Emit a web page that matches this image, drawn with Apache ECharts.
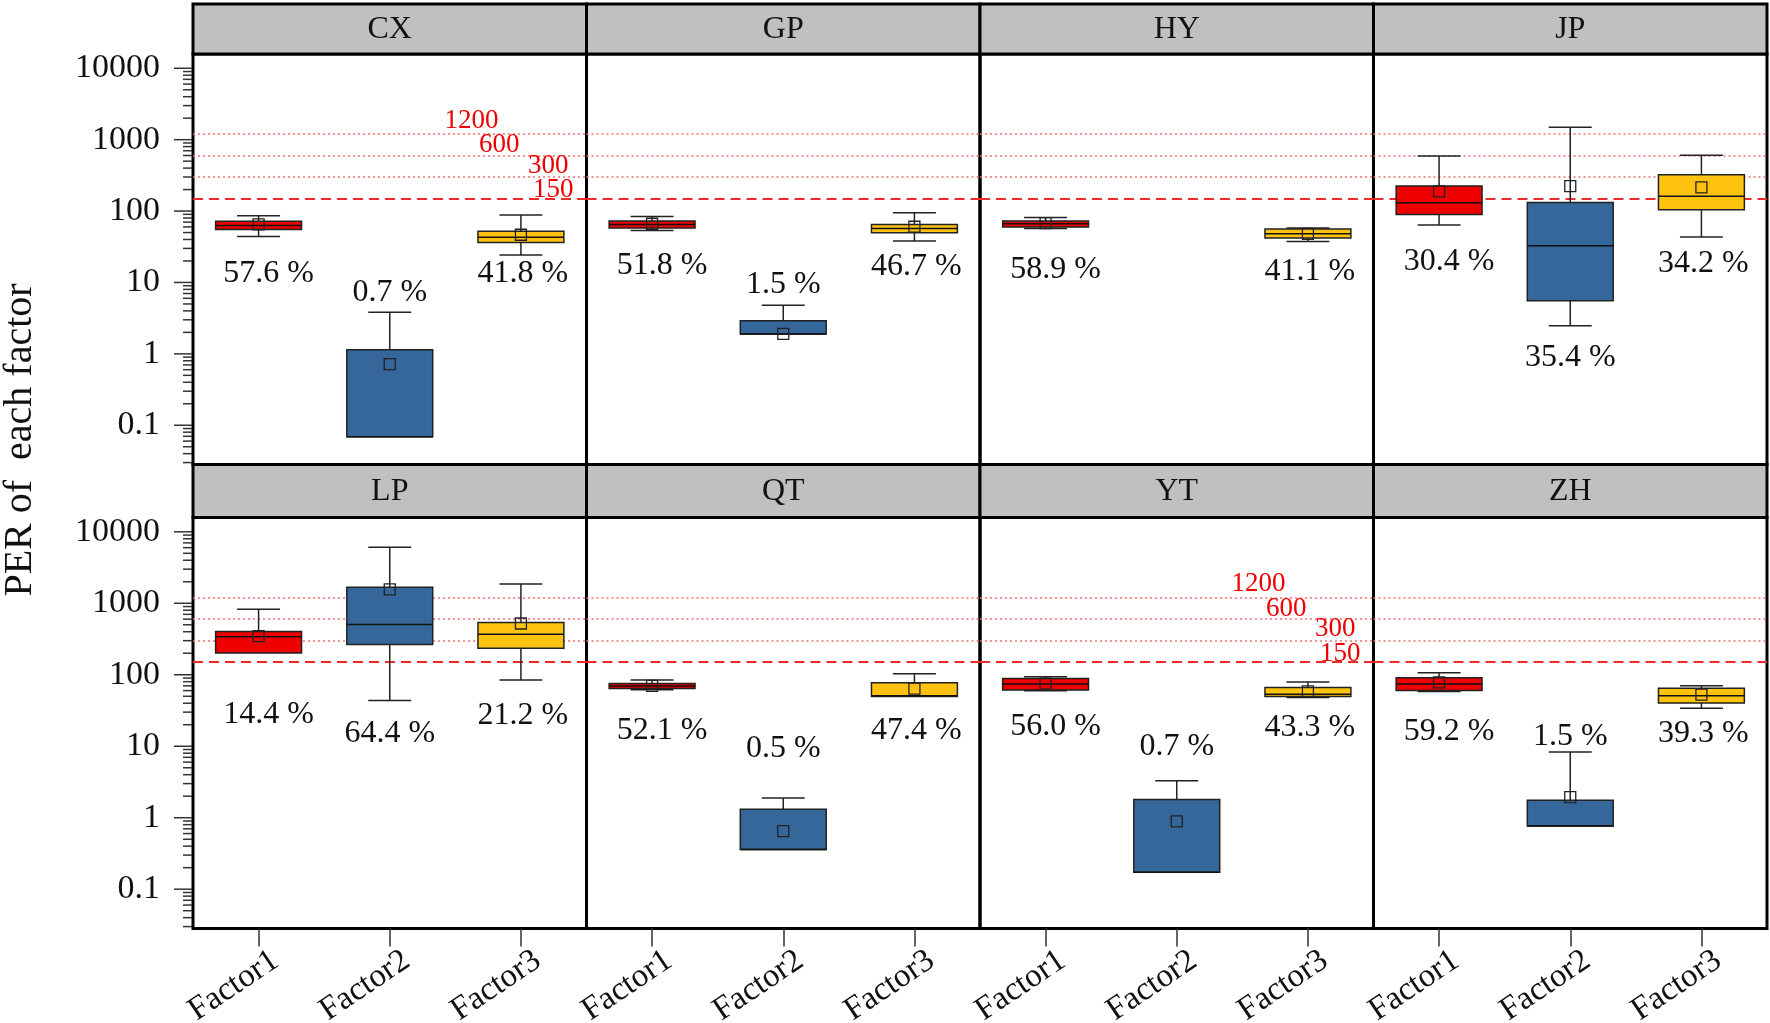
<!DOCTYPE html>
<html>
<head>
<meta charset="utf-8">
<script src="https://cdn.jsdelivr.net/npm/echarts@6/dist/echarts.min.js"></script>
<style>
html,body{margin:0;padding:0;background:#fff;}
#chart{width:1770px;height:1023px;}
</style>
</head>
<body>
<div id="chart"></div>
<script>
// ---------------- DATA ----------------
const panels = ['CX', 'GP', 'HY', 'JP', 'LP', 'QT', 'YT', 'ZH'];
const factors = ['Factor1', 'Factor2', 'Factor3'];
const yTickLabels = [0.1, 1, 10, 100, 1000, 10000];
const thresholds = [1200, 600, 300, 150];
const thresholdLabelPanels = ['CX', 'YT'];

// box statistics per panel: [min, Q1, median, Q3, max]
const factor1Box = [
  [44, 55, 63, 72, 86],
  [53.6, 57.8, 65, 72.4, 84.2],
  [57.1, 59.7, 66.4, 72.4, 81.5],
  [63.7, 89.8, 131, 224, 590],
  [201, 201, 339, 404, 828],
  [61.8, 64, 69.6, 75.3, 84.6],
  [59.7, 61, 74.5, 88.5, 93.8],
  [58.3, 60.4, 74.5, 90.6, 107]
];
const factor2Box = [
  [0.069, 0.069, 0.069, 1.14, 3.84],
  [1.89, 1.89, 1.9, 2.9, 4.81],
  null,
  [2.47, 5.53, 32.7, 132, 1489],
  [43.7, 266, 504, 1680, 6080],
  [0.36, 0.36, 0.36, 1.31, 1.89],
  [0.172, 0.172, 0.172, 1.8, 3.3],
  [0.766, 0.766, 0.766, 1.76, 8.33]
];
const factor3Box = [
  [24.2, 36.3, 43, 52, 88],
  [38, 49.7, 57.1, 65, 94.8],
  [37.6, 41.8, 48.1, 56, 57.8],
  [43.2, 104, 161, 323, 603],
  [84.5, 234, 368, 540, 1865],
  [49.6, 49.6, 51, 77, 103],
  [47.9, 49.6, 53.2, 66.3, 78.9],
  [33.9, 40.3, 50.8, 64.7, 70.3]
];
// means (open squares)
const factor1Mean = [65, 66.4, 67.9, 189, 347, 70, 75, 78];
const factor2Mean = [0.72, 1.9, null, 224, 1567, 0.65, 0.89, 1.94];
const factor3Mean = [46.6, 60.3, 48, 215, 521, 64, 58.4, 52.6];
// contribution percentages
const factor1Pct = [57.6, 51.8, 58.9, 30.4, 14.4, 52.1, 56.0, 59.2];
const factor2Pct = [0.7, 1.5, null, 35.4, 64.4, 0.5, 0.7, 1.5];
const factor3Pct = [41.8, 46.7, 41.1, 34.2, 21.2, 47.4, 43.3, 39.3];
// value on the log axis where each percentage annotation sits
const factor1LabelAt = [13.5, 17.3, 15, 19.3, 28, 16.7, 18.7, 15.8];
const factor2LabelAt = [7.3, 9.4, null, 0.9, 15.2, 9.35, 9.9, 13.6];
const factor3LabelAt = [13.2, 16.9, 14.4, 18.3, 27.2, 16.3, 18.3, 15.2];

// ---------------- STYLE / LAYOUT ----------------
const FONT = '"Liberation Serif","Times New Roman",serif';
const COLORS = ['#EE0000', '#35679A', '#FFC30F'];
const LEFT = 193, COLW = 393.5;
const HEADER_TOP = [4, 464.5];
const PLOT_TOP = [54, 517.5];
const PLOT_H = [410.5, 411];
const Y_MIN = 0.0282, Y_MAX = 15850;
const LABEL_DX = [10, 0, 2];
const TH_LABEL_DIST = [[88, 0], [67, -3], [18, -2], [13, -5]];

const boxes = [factor1Box, factor2Box, factor3Box];
const means = [factor1Mean, factor2Mean, factor3Mean];
const pcts = [factor1Pct, factor2Pct, factor3Pct];
const labelAts = [factor1LabelAt, factor2LabelAt, factor3LabelAt];

function fmtTick(v) {
  const l = Math.log10(v);
  const rl = Math.round(l);
  if (Math.abs(l - rl) > 1e-6) return '';
  const t = yTickLabels.find(tv => Math.abs(Math.log10(tv) - rl) < 1e-6);
  return t == null ? '' : String(t);
}

// tick values for the log axis (major + minor 2..9)
const tickValues = [];
for (let k = -2; k <= 4; k++) {
  for (let m = 1; m <= 9; m++) {
    const v = m * Math.pow(10, k);
    if (v >= Y_MIN && v <= Y_MAX) tickValues.push([0, v, m === 1 ? 1 : 0]);
  }
}

function boxRender(params, api) {
  const cat = api.value(0);
  const vals = [1, 2, 3, 4, 5].map(d => api.value(d));
  const mean = api.value(6);
  const band = params.coordSys.width / factors.length;
  const bw = band * 0.655, cw = bw * 0.5;
  const x = api.coord([cat, vals[2]])[0];
  const y = vals.map(v => api.coord([cat, v])[1]);
  const ls = { stroke: '#222', lineWidth: 1.5 };
  const color = COLORS[cat];
  const children = [];
  if (vals[4] > vals[3]) {
    children.push({ type: 'line', shape: { x1: x, y1: y[4], x2: x, y2: y[3] }, style: ls });
    children.push({ type: 'line', shape: { x1: x - cw / 2, y1: y[4], x2: x + cw / 2, y2: y[4] }, style: ls });
  }
  if (vals[0] < vals[1]) {
    children.push({ type: 'line', shape: { x1: x, y1: y[1], x2: x, y2: y[0] }, style: ls });
    children.push({ type: 'line', shape: { x1: x - cw / 2, y1: y[0], x2: x + cw / 2, y2: y[0] }, style: ls });
  }
  children.push({ type: 'rect', shape: { x: x - bw / 2, y: y[3], width: bw, height: y[1] - y[3] },
    style: { fill: color, stroke: '#222', lineWidth: 1.5 } });
  children.push({ type: 'line', shape: { x1: x - bw / 2, y1: y[2], x2: x + bw / 2, y2: y[2] },
    style: { stroke: '#111', lineWidth: 1.5 } });
  if (!isNaN(mean)) {
    const ym = api.coord([cat, mean])[1];
    children.push({ type: 'rect', shape: { x: x - 5.5, y: ym - 5.5, width: 11, height: 11 },
      style: { fill: 'none', stroke: '#222', lineWidth: 1.3 } });
  }
  return { type: 'group', children };
}

const grids = [], xAxes = [], yAxes = [], series = [], graphics = [];

panels.forEach((name, i) => {
  const r = Math.floor(i / 4), c = i % 4;
  const left = LEFT + c * COLW;
  grids.push({
    left: left, top: PLOT_TOP[r], width: COLW, height: PLOT_H[r],
    show: true, borderColor: '#000', borderWidth: 3, backgroundColor: 'transparent',
    containLabel: false, outerBoundsMode: 'none'
  });
  xAxes.push({
    type: 'category', gridIndex: i, data: factors, boundaryGap: true,
    axisLine: { show: false },
    axisTick: { show: r === 1, alignWithLabel: true, length: 18, lineStyle: { color: '#333', width: 1.5 } },
    axisLabel: { show: false }, splitLine: { show: false }
  });
  yAxes.push({
    type: 'log', logBase: 10, gridIndex: i, min: Y_MIN, max: Y_MAX,
    axisLine: { show: false }, axisTick: { show: false }, splitLine: { show: false },
    minorTick: { show: false }, minorSplitLine: { show: false },
    axisLabel: { show: c === 0, margin: 33, fontSize: 34, fontFamily: FONT, color: '#111', formatter: fmtTick }
  });

  // threshold lines
  const showTh = thresholdLabelPanels.indexOf(name) >= 0;
  series.push({
    type: 'line', xAxisIndex: i, yAxisIndex: i, data: [], z: 1, silent: true,
    markLine: {
      silent: true, symbol: ['none', 'none'], animation: false, z: 1,
      data: thresholds.map((v, k) => ({
        yAxis: v,
        lineStyle: k === thresholds.length - 1
          ? { color: '#EE2A2A', width: 2, type: [10, 6] }
          : { color: '#F07070', width: 1.5, type: [2, 3] },
        label: {
          show: showTh, position: 'insideEndTop', formatter: String(v),
          color: '#EE0000', fontSize: 27, fontFamily: FONT, distance: TH_LABEL_DIST[k]
        }
      }))
    }
  });

  // boxes
  const boxData = [];
  for (let f = 0; f < 3; f++) {
    const b = boxes[f][i];
    if (!b) continue;
    boxData.push([f].concat(b).concat([means[f][i] == null ? NaN : means[f][i]]));
  }
  series.push({
    type: 'custom', xAxisIndex: i, yAxisIndex: i, z: 6, silent: true,
    renderItem: boxRender, encode: { x: 0, y: [1, 2, 3, 4, 5, 6] }, data: boxData
  });

  // percentage labels
  const lblData = [], lblText = [];
  for (let f = 0; f < 3; f++) {
    if (pcts[f][i] == null) continue;
    lblData.push([f, labelAts[f][i]]);
    lblText.push(pcts[f][i].toFixed(1) + ' %');
  }
  series.push({
    type: 'custom', xAxisIndex: i, yAxisIndex: i, z: 7, silent: true, clip: false,
    encode: { x: 0, y: 1 }, data: lblData,
    renderItem: (params, api) => {
      const cat = api.value(0);
      const p = api.coord([cat, api.value(1)]);
      return { type: 'text', x: p[0] + LABEL_DX[cat], y: p[1],
        style: { text: lblText[params.dataIndex], fontSize: 32, fontFamily: FONT, fill: '#111',
          align: 'center', verticalAlign: 'middle' } };
    }
  });

  // y ticks (major + minor) on left column
  if (c === 0) {
    series.push({
      type: 'custom', xAxisIndex: i, yAxisIndex: i, z: 7, silent: true, clip: false,
      encode: { x: 0, y: 1 }, data: tickValues,
      renderItem: (params, api) => {
        const y = api.coord([0, api.value(1)])[1];
        const x0 = params.coordSys.x;
        const len = api.value(2) ? 19 : 10;
        return { type: 'line', shape: { x1: x0 - len, y1: y, x2: x0 - 1, y2: y },
          style: { stroke: '#333', lineWidth: 1.5 } };
      }
    });
  }

  // x category labels on bottom row
  if (r === 1) {
    series.push({
      type: 'custom', xAxisIndex: i, yAxisIndex: i, z: 7, silent: true, clip: false,
      encode: { x: 0, y: 1 }, data: factors.map((f, k) => [k, 1]),
      renderItem: (params, api) => {
        const cat = api.value(0);
        const x = api.coord([cat, 1])[0];
        const yb = params.coordSys.y + params.coordSys.height;
        return { type: 'text', x: x + 17, y: yb + 29, rotation: 34 * Math.PI / 180,
          style: { text: factors[cat], fontSize: 33, fontFamily: FONT, fill: '#111',
            align: 'right', verticalAlign: 'middle' } };
      }
    });
  }

  // header strip
  graphics.push({
    type: 'rect', z: 10,
    shape: { x: left, y: HEADER_TOP[r], width: COLW, height: PLOT_TOP[r] - HEADER_TOP[r] },
    style: { fill: '#C0C0C0', stroke: '#000', lineWidth: 3 }
  });
  graphics.push({
    type: 'text', z: 11,
    x: left + COLW / 2, y: (HEADER_TOP[r] + PLOT_TOP[r]) / 2 + 1,
    style: { text: name, fontSize: 32, fontFamily: FONT, fill: '#111', align: 'center', verticalAlign: 'middle' }
  });
});

graphics.push({
  type: 'text', z: 11, x: 20, y: 440, rotation: Math.PI / 2,
  style: { text: 'PER of  each factor', fontSize: 40, fontFamily: FONT, fill: '#111',
    align: 'center', verticalAlign: 'middle' }
});

const chart = echarts.init(document.getElementById('chart'));
chart.setOption({
  animation: false,
  backgroundColor: '#fff',
  grid: grids,
  xAxis: xAxes,
  yAxis: yAxes,
  series: series,
  graphic: graphics
});
</script>
</body>
</html>
